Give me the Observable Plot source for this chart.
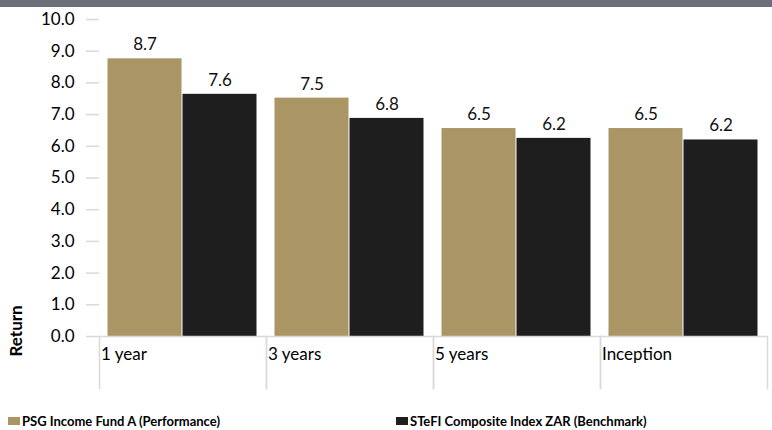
<!DOCTYPE html>
<html>
<head>
<meta charset="utf-8">
<script src="https://cdn.jsdelivr.net/npm/d3@7"></script>
<script src="https://cdn.jsdelivr.net/npm/@observablehq/plot@0.6"></script>
<style>
  html, body { margin: 0; padding: 0; background: #fff; }
  body { width: 772px; height: 430px; overflow: hidden; position: relative; font-family: Lato, "Open Sans", sans-serif; }
  #band { height: 7px; background: #6d707a; }
  #legend { position: absolute; top: 413px; left: 8px; width: 764px; font-size: 13px; font-weight: bold; color: #000; white-space: nowrap; }
  .item { position: absolute; top: 0; display: flex; align-items: center; line-height: 16px; }
  .sw { width: 12px; height: 8px; margin-right: 2px; }
</style>
</head>
<body>
<div id="band"></div>
<div id="chart"></div>
<div id="legend"></div>
<script>
const categories = ["1 year", "3 years", "5 years", "Inception"];
const series = ["PSG Income Fund A (Performance)", "STeFI Composite Index ZAR (Benchmark)"];
const fundValues = [8.76, 7.52, 6.56, 6.56];
const benchValues = [7.64, 6.88, 6.25, 6.20];
const fundLabels = ["8.7", "7.5", "6.5", "6.5"];
const benchLabels = ["7.6", "6.8", "6.2", "6.2"];
const yTicks = [0, 1, 2, 3, 4, 5, 6, 7, 8, 9, 10];
const colors = ["#aa9665", "#1e1e1e"];

const data = [];
categories.forEach((c, i) => {
  data.push({cat: c, series: series[0], value: fundValues[i], label: fundLabels[i]});
  data.push({cat: c, series: series[1], value: benchValues[i], label: benchLabels[i]});
});

const gridColor = "#d9d9d9";

const chart = Plot.plot({
  width: 772,
  height: 400,
  marginTop: 12,
  marginBottom: 71,
  marginLeft: 97.5,
  marginRight: 4.5,
  style: {fontFamily: "Lato, 'Open Sans', sans-serif", fontSize: "17px", color: "#000", background: "#fff"},
  fx: {domain: categories, padding: 0, axis: null},
  x: {domain: series, paddingInner: 1/76, paddingOuter: 0.1086, align: 0.45, axis: null},
  y: {domain: [0, 10]},
  color: {domain: series, range: colors},
  marks: [
    Plot.barY(data, {fx: "cat", x: "series", y: "value", fill: "series"}),
    Plot.ruleY([0], {stroke: gridColor, strokeWidth: 1.5}),
    Plot.frame({anchor: "left", stroke: gridColor, strokeWidth: 1.5, insetTop: 317, insetBottom: -52}),
    Plot.frame({anchor: "right", stroke: gridColor, strokeWidth: 1.5, insetTop: 317, insetBottom: -52}),
    Plot.axisY({ticks: yTicks, tickFormat: d => d.toFixed(1), tickSize: 13, tickPadding: 12,
      stroke: gridColor, strokeWidth: 1.5, fill: "#000", fontSize: 17, label: null, line: true}),
    Plot.text(data, {fx: "cat", x: "series", y: "value", text: "label", dy: -14, fontSize: 17, fill: "#111"}),
    Plot.text(categories, {fx: d => d, text: d => d, frameAnchor: "bottom-left", textAnchor: "start",
      dx: 1.5, dy: 23, fontSize: 17, fill: "#000"}),
    Plot.text([categories[0]], {fx: d => d, text: () => "Return", frameAnchor: "bottom-left",
      rotate: -90, textAnchor: "start", dx: -77.5, dy: 20, fontSize: 17, fontWeight: "bold", fill: "#000"})
  ]
});
document.getElementById("chart").appendChild(chart);

const legend = document.getElementById("legend");
const lefts = [0, 388];
series.forEach((s, i) => {
  const item = document.createElement("div");
  item.className = "item";
  item.style.left = lefts[i] + "px";
  const sw = document.createElement("span");
  sw.className = "sw";
  sw.style.background = colors[i];
  const t = document.createElement("span");
  t.textContent = s;
  item.appendChild(sw);
  item.appendChild(t);
  legend.appendChild(item);
});
</script>
</body>
</html>
